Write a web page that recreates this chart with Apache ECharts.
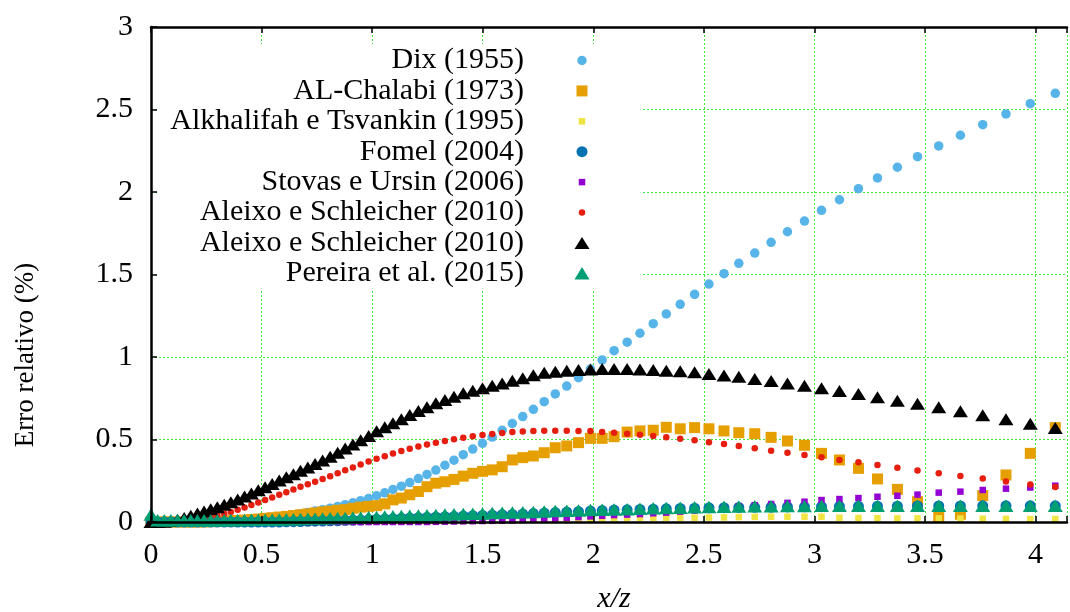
<!DOCTYPE html>
<html>
<head>
<meta charset="utf-8">
<title>Erro relativo</title>
<script src="https://cdn.jsdelivr.net/npm/echarts@6/dist/echarts.min.js"></script>
<style>
  html, body { margin: 0; padding: 0; background: #ffffff; }
  #chart { width: 1070px; height: 612px; }
</style>
</head>
<body>
<div id="chart"></div>
<script>
// Offset-to-depth ratio x/z at which every method was evaluated
const xRatio = [
  0.000, 0.030, 0.060, 0.090, 0.120, 0.150, 0.180, 0.210, 0.240, 0.270,
  0.300, 0.331, 0.361, 0.392, 0.423, 0.454, 0.485, 0.516, 0.548, 0.580,
  0.612, 0.644, 0.676, 0.709, 0.742, 0.776, 0.810, 0.844, 0.878, 0.913,
  0.948, 0.984, 1.020, 1.057, 1.094, 1.132, 1.170, 1.209, 1.248, 1.288,
  1.329, 1.370, 1.412, 1.455, 1.499, 1.543, 1.588, 1.634, 1.681, 1.729,
  1.778, 1.828, 1.880, 1.933, 1.987, 2.040, 2.094, 2.153, 2.211, 2.271,
  2.330, 2.393, 2.458, 2.523, 2.591, 2.658, 2.730, 2.804, 2.878, 2.955,
  3.032, 3.113, 3.199, 3.285, 3.375, 3.466, 3.562, 3.660, 3.761, 3.866,
  3.976, 4.089
];

// Relative traveltime error (%) of each approximation
const dix1955 = [
  0, 0, 0, 0, 0, 0, 0, 0.001, 0.001, 0.001,
  0.002, 0.003, 0.004, 0.005, 0.007, 0.009, 0.012, 0.016, 0.020, 0.025,
  0.036, 0.043, 0.050, 0.058, 0.066, 0.075, 0.084, 0.094, 0.105, 0.116,
  0.129, 0.143, 0.159, 0.177, 0.197, 0.217, 0.239, 0.263, 0.288, 0.315,
  0.344, 0.375, 0.408, 0.442, 0.477, 0.515, 0.556, 0.597, 0.639, 0.683,
  0.729, 0.776, 0.824, 0.875, 0.927, 0.982, 1.038, 1.090, 1.144, 1.202,
  1.261, 1.319, 1.380, 1.442, 1.505, 1.568, 1.630, 1.695, 1.759, 1.824,
  1.889, 1.953, 2.020, 2.085, 2.150, 2.214, 2.279, 2.344, 2.408, 2.473,
  2.535, 2.598
];
const alChalabi1973 = [
  0, 0, 0, 0, 0, 0, 0, 0, 0.001, 0.002,
  0.003, 0.005, 0.007, 0.009, 0.012, 0.015, 0.018, 0.022, 0.026, 0.030,
  0.034, 0.039, 0.044, 0.049, 0.055, 0.061, 0.066, 0.071, 0.075, 0.083,
  0.090, 0.095, 0.099, 0.110, 0.134, 0.145, 0.165, 0.185, 0.214, 0.235,
  0.244, 0.258, 0.278, 0.295, 0.307, 0.316, 0.335, 0.376, 0.390, 0.400,
  0.420, 0.450, 0.461, 0.481, 0.507, 0.507, 0.517, 0.545, 0.552, 0.556,
  0.574, 0.565, 0.572, 0.565, 0.552, 0.541, 0.535, 0.513, 0.491, 0.465,
  0.416, 0.376, 0.325, 0.261, 0.198, 0.123, 0.032, 0.047, 0.160, 0.285,
  0.416, 0.572
];
const alkhalifahTsvankin1995 = [
  0, 0, 0, 0, 0, 0, 0, 0, 0, 0,
  0, 0, 0, 0, 0, 0, 0, 0, 0, 0,
  0, 0, 0, 0, 0, 0, 0, 0, 0, 0,
  0.001, 0.001, 0.002, 0.002, 0.003, 0.003, 0.004, 0.005, 0.005, 0.006,
  0.006, 0.007, 0.007, 0.008, 0.009, 0.010, 0.011, 0.012, 0.013, 0.014,
  0.015, 0.016, 0.017, 0.018, 0.020, 0.022, 0.024, 0.025, 0.026, 0.026,
  0.026, 0.026, 0.026, 0.027, 0.028, 0.030, 0.031, 0.032, 0.032, 0.032,
  0.032, 0.026, 0.024, 0.023, 0.022, 0.022, 0.022, 0.021, 0.020, 0.019,
  0.018, 0.018
];
const fomel2004 = [
  0, 0, 0, 0, 0, 0, 0, 0, 0, 0,
  0, 0, 0, 0, 0, 0, 0, 0, 0, 0,
  0.001, 0.002, 0.003, 0.004, 0.005, 0.006, 0.007, 0.008, 0.010, 0.011,
  0.012, 0.014, 0.016, 0.018, 0.020, 0.022, 0.024, 0.026, 0.028, 0.030,
  0.032, 0.034, 0.036, 0.038, 0.040, 0.042, 0.044, 0.046, 0.048, 0.051,
  0.054, 0.057, 0.060, 0.063, 0.066, 0.069, 0.072, 0.074, 0.076, 0.078,
  0.080, 0.082, 0.084, 0.086, 0.087, 0.088, 0.089, 0.090, 0.091, 0.092,
  0.093, 0.094, 0.095, 0.096, 0.096, 0.097, 0.097, 0.097, 0.098, 0.098,
  0.098, 0.098
];
const stovasUrsin2006 = [
  0, 0, 0, 0, 0, 0, 0, 0, 0, 0,
  0, 0, 0, 0, 0, 0, 0, 0, 0, 0,
  0, 0, 0, 0, 0, 0, 0, 0, 0, 0,
  0, 0, 0, 0, 0, 0, 0, 0, 0, 0.001,
  0.002, 0.003, 0.004, 0.005, 0.006, 0.007, 0.008, 0.010, 0.013, 0.016,
  0.019, 0.022, 0.026, 0.030, 0.034, 0.038, 0.042, 0.045, 0.048, 0.053,
  0.057, 0.063, 0.070, 0.078, 0.086, 0.094, 0.102, 0.109, 0.116, 0.123,
  0.133, 0.139, 0.145, 0.153, 0.159, 0.166, 0.178, 0.184, 0.194, 0.202,
  0.209, 0.220
];
const aleixoSchleicherA = [
  0, 0, 0.001, 0.002, 0.004, 0.007, 0.011, 0.016, 0.022, 0.030,
  0.040, 0.050, 0.061, 0.074, 0.088, 0.103, 0.118, 0.133, 0.149, 0.165,
  0.181, 0.197, 0.213, 0.229, 0.244, 0.261, 0.278, 0.296, 0.314, 0.331,
  0.348, 0.366, 0.383, 0.399, 0.415, 0.430, 0.444, 0.457, 0.469, 0.480,
  0.491, 0.501, 0.510, 0.519, 0.527, 0.534, 0.540, 0.545, 0.549, 0.552,
  0.553, 0.553, 0.553, 0.552, 0.552, 0.545, 0.541, 0.535, 0.529, 0.521,
  0.513, 0.505, 0.495, 0.483, 0.473, 0.461, 0.447, 0.432, 0.420, 0.406,
  0.392, 0.376, 0.362, 0.345, 0.329, 0.312, 0.295, 0.279, 0.263, 0.246,
  0.228, 0.212
];
const aleixoSchleicherB = [
  0, 0, 0.002, 0.006, 0.013, 0.024, 0.038, 0.052, 0.064, 0.077,
  0.090, 0.104, 0.120, 0.137, 0.155, 0.173, 0.192, 0.211, 0.231, 0.251,
  0.271, 0.290, 0.310, 0.330, 0.351, 0.373, 0.396, 0.420, 0.445, 0.470,
  0.495, 0.521, 0.550, 0.575, 0.598, 0.622, 0.648, 0.673, 0.695, 0.719,
  0.739, 0.759, 0.780, 0.796, 0.810, 0.826, 0.840, 0.856, 0.871, 0.890,
  0.905, 0.911, 0.917, 0.921, 0.925, 0.927, 0.928, 0.928, 0.925, 0.921,
  0.917, 0.913, 0.907, 0.897, 0.888, 0.881, 0.867, 0.855, 0.840, 0.826,
  0.810, 0.794, 0.776, 0.756, 0.735, 0.716, 0.695, 0.671, 0.647, 0.622,
  0.596, 0.570
];
const pereira2015 = [
  0.045, 0.011, 0.011, 0.011, 0.011, 0.011, 0.011, 0.011, 0.011, 0.011,
  0.011, 0.011, 0.012, 0.012, 0.012, 0.013, 0.013, 0.014, 0.014, 0.015,
  0.016, 0.017, 0.018, 0.019, 0.020, 0.021, 0.022, 0.024, 0.025, 0.027,
  0.028, 0.030, 0.031, 0.033, 0.035, 0.036, 0.038, 0.040, 0.041, 0.043,
  0.045, 0.047, 0.048, 0.050, 0.052, 0.054, 0.056, 0.057, 0.059, 0.061,
  0.064, 0.066, 0.068, 0.070, 0.072, 0.074, 0.076, 0.078, 0.080, 0.083,
  0.085, 0.087, 0.089, 0.091, 0.092, 0.094, 0.095, 0.096, 0.097, 0.097,
  0.098, 0.098, 0.098, 0.098, 0.099, 0.099, 0.099, 0.099, 0.099, 0.099,
  0.099, 0.099
];

const seriesNames = [
  'Dix (1955)',
  'AL-Chalabi (1973)',
  'Alkhalifah e Tsvankin (1995)',
  'Fomel (2004)',
  'Stovas e Ursin (2006)',
  'Aleixo e Schleicher (2010)',
  'Aleixo e Schleicher (2010)',
  'Pereira et al. (2015)'
];
const seriesValues = [
  dix1955, alChalabi1973, alkhalifahTsvankin1995, fomel2004,
  stovasUrsin2006, aleixoSchleicherA, aleixoSchleicherB, pereira2015
];
const yTicks = [0, 0.5, 1, 1.5, 2, 2.5, 3];
const xLabel = 'x/z';
const yLabel = 'Erro relativo (%)';

// Marker styles (gnuplot default colour cycle)
const markers = [
  { color: '#56B4E9', symbol: 'circle',   size: 9.5 },
  { color: '#E69F00', symbol: 'rect',     size: 11 },
  { color: '#F0E442', symbol: 'rect',     size: 6.5 },
  { color: '#0072B2', symbol: 'circle',   size: 11 },
  { color: '#9400D3', symbol: 'rect',     size: 6.5 },
  { color: '#E51E10', symbol: 'circle',   size: 6.5 },
  { color: '#000000', symbol: 'triangle', size: [15, 12] },
  { color: '#009E73', symbol: 'triangle', size: [15, 12.5] }
];

const FONT = '"Liberation Serif", "DejaVu Serif", serif';
const GRID_LEFT = 151, GRID_TOP = 27, GRID_BOTTOM = 90, GRID_RIGHT = -3;
const X_MAX = 4.142;   // plot runs past the right edge of the canvas
const Y_MIN = yTicks[0], Y_MAX = yTicks[yTicks.length - 1], Y_STEP = yTicks[1] - yTicks[0];

const gridLine = { color: '#3fe83f', width: 1, type: [2, 2] };
const borderLine = { color: '#000000', width: 2.5 };
const borderTick = { inside: true, length: 6, lineStyle: { color: '#000000', width: 1.5 } };

function isHalfStep(v) {
  return Math.abs(v * 2 - Math.round(v * 2)) < 1e-6;
}

const series = seriesValues.map((ys, k) => ({
  type: 'scatter',
  name: seriesNames[k],
  xAxisIndex: 0,
  yAxisIndex: 0,
  data: xRatio.map((x, i) => [x, ys[i]]),
  symbol: markers[k].symbol,
  symbolSize: markers[k].size,
  itemStyle: { color: markers[k].color, opacity: 1 },
  clip: false,
  silent: true,
  z: 2
}));

// Key drawn as an opaque box in the upper-left part of the plot
const keyRight = 524, keySymbolX = 582, keyTop = 60.5, keyStep = 30.4;
const keyElements = [{
  type: 'rect',
  shape: { x: 157, y: 44, width: 484, height: 246 },
  style: { fill: '#ffffff' },
  z: 1
}];
seriesNames.forEach((name, k) => {
  const cy = keyTop + k * keyStep;
  keyElements.push({
    type: 'text', x: keyRight, y: cy, z: 3,
    style: { text: name, fill: '#000000', font: '30px ' + FONT, align: 'right', verticalAlign: 'middle' }
  });
  const m = markers[k];
  if (m.symbol === 'circle') {
    keyElements.push({ type: 'circle', z: 3, shape: { cx: keySymbolX, cy: cy, r: m.size / 2 }, style: { fill: m.color } });
  } else if (m.symbol === 'rect') {
    keyElements.push({ type: 'rect', z: 3, shape: { x: keySymbolX - m.size / 2, y: cy - m.size / 2, width: m.size, height: m.size }, style: { fill: m.color } });
  } else {
    const w = m.size[0], h = m.size[1];
    keyElements.push({ type: 'polygon', z: 3, shape: { points: [[keySymbolX, cy - h / 2], [keySymbolX - w / 2, cy + h / 2], [keySymbolX + w / 2, cy + h / 2]] }, style: { fill: m.color } });
  }
});

const chart = echarts.init(document.getElementById('chart'), null, { renderer: 'canvas' });
chart.setOption({
  animation: false,
  backgroundColor: '#ffffff',
  grid: { left: GRID_LEFT, right: GRID_RIGHT, top: GRID_TOP, bottom: GRID_BOTTOM, containLabel: false },
  xAxis: [
    { // labels and grid
      type: 'value', min: 0, max: X_MAX, interval: 0.5, position: 'bottom', z: 0,
      axisLine: { show: false, onZero: false }, axisTick: { show: false },
      axisLabel: { color: '#000000', fontFamily: FONT, fontSize: 30, margin: 18,
        formatter: v => (isHalfStep(v) && v <= 4 + 1e-9 ? String(+v.toFixed(1)) : '') },
      splitLine: { show: true, lineStyle: gridLine }
    },
    { // bottom border
      type: 'value', min: 0, max: X_MAX, interval: 0.5, position: 'bottom', z: 10,
      axisLine: { show: true, onZero: false, lineStyle: borderLine }, axisTick: borderTick,
      axisLabel: { show: false }, splitLine: { show: false }
    },
    { // top border
      type: 'value', min: 0, max: X_MAX, interval: 0.5, position: 'top', z: 10,
      axisLine: { show: true, onZero: false, lineStyle: borderLine }, axisTick: borderTick,
      axisLabel: { show: false }, splitLine: { show: false }
    }
  ],
  yAxis: [
    {
      type: 'value', min: Y_MIN, max: Y_MAX, interval: Y_STEP, position: 'left', z: 0,
      axisLine: { show: false, onZero: false }, axisTick: { show: false },
      axisLabel: { color: '#000000', fontFamily: FONT, fontSize: 30, margin: 18 },
      splitLine: { show: true, lineStyle: gridLine }
    },
    {
      type: 'value', min: Y_MIN, max: Y_MAX, interval: Y_STEP, position: 'left', z: 10,
      axisLine: { show: true, onZero: false, lineStyle: borderLine }, axisTick: borderTick,
      axisLabel: { show: false }, splitLine: { show: false }
    }
  ],
  graphic: {
    elements: keyElements.concat([
      {
        type: 'text', x: 26, y: 355, rotation: Math.PI / 2, z: 3,
        style: { text: yLabel, fill: '#000000', font: '27px ' + FONT, align: 'center', verticalAlign: 'middle' }
      },
      {
        type: 'text', x: 614, y: 599, z: 3,
        style: { text: xLabel, fill: '#000000', font: 'italic 30px ' + FONT, align: 'center', verticalAlign: 'middle' }
      }
    ])
  },
  series: series
});
</script>
</body>
</html>
